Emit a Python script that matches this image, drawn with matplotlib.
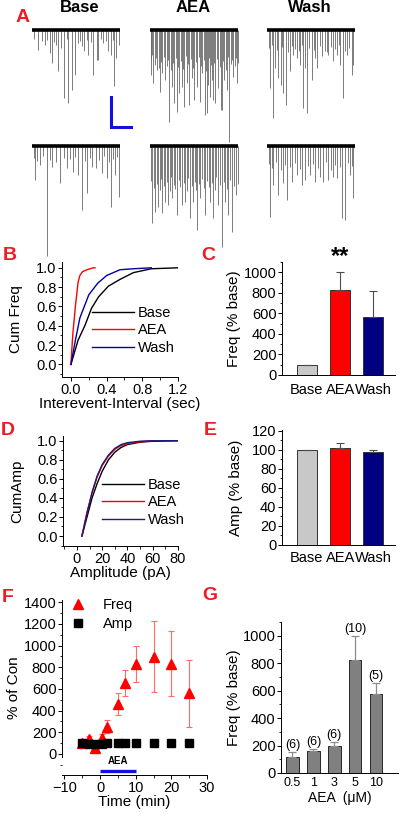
import matplotlib.pyplot as plt
import numpy as np
from matplotlib.ticker import MultipleLocator
from matplotlib.lines import Line2D

plt.rcParams['font.family'] = ['Liberation Sans', 'DejaVu Sans']
plt.rcParams['axes.linewidth'] = 0.7

W, H = 400, 818
fig = plt.figure(figsize=(W / 100, H / 100), dpi=100)
RED = '#ee1c24'

# ---------------- data ----------------
# Panel A: sample traces, events as (time ms, amplitude pA)
base1_t = [57, 97, 130, 180, 197, 237, 263, 290, 323, 363, 397, 430, 463, 497, 523, 563, 613, 647,
           663, 713, 763, 790, 823, 840, 870, 20, 150, 215, 345, 480, 545, 590, 690, 740, 810]
base1_a = [20, 11, 15, 23, 33, 15, 41, 18, 68, 73, 60, 45, 13, 16, 21, 25, 45, 30,
           30, 13, 21, 25, 56, 28, 15, 9, 10, 12, 9, 11, 10, 12, 9, 11, 10]
aea1_t = [10, 30, 70, 100, 120, 150, 190, 220, 240, 270, 290, 320, 340, 370, 390, 420, 440, 470,
          500, 520, 550, 570, 580, 600, 620, 630, 650, 680, 710, 720, 740, 770, 790, 830, 870,
          5, 20, 45, 60, 85, 110, 135, 165, 175, 205, 230, 255, 280, 305, 330, 355, 380, 405,
          430, 455, 485, 510, 535, 560, 590, 610, 640, 665, 695, 730, 755, 780, 805, 815, 845,
          860, 878]
aea1_a = [45, 53, 40, 62, 43, 50, 92, 57, 73, 82, 63, 57, 77, 53, 75, 48, 70, 57,
          72, 43, 85, 83, 55, 67, 50, 70, 73, 58, 80, 80, 50, 60, 112, 47, 53,
          30, 25, 35, 28, 38, 32, 27, 36, 30, 40, 33, 28, 37, 31, 39, 26, 34, 29,
          38, 32, 27, 36, 30, 41, 28, 35, 33, 29, 37, 31, 40, 27, 34, 30, 36,
          28, 33]
wash1_t = [30, 57, 80, 113, 137, 163, 190, 230, 263, 297, 330, 357, 380, 403, 447, 480, 503, 547,
           580, 613, 657, 697, 730, 757, 797, 847, 863,
           15, 45, 100, 150, 210, 245, 280, 315, 345, 420, 465, 525, 600, 640, 680, 715, 780, 820]
wash1_a = [58, 88, 38, 48, 55, 63, 75, 41, 25, 28, 35, 78, 38, 83, 50, 28, 38, 26,
           21, 25, 31, 25, 35, 68, 25, 45, 35,
           18, 15, 20, 17, 22, 16, 19, 21, 15, 18, 20, 16, 22, 17, 19, 15, 21, 18]
base2_t = [30, 80, 150, 200, 280, 350, 410, 460, 500, 550, 600, 640, 700, 750, 790, 830, 875,
           15, 50, 110, 180, 240, 320, 380, 430, 530, 580, 670, 720, 770, 810, 855]
base2_a = [34, 19, 110, 21, 37, 22, 26, 29, 64, 47, 21, 22, 27, 32, 61, 29, 51,
           12, 15, 10, 14, 16, 12, 13, 11, 15, 12, 14, 10, 16, 13, 11]
aea2_t = [20, 50, 80, 120, 150, 180, 220, 270, 320, 350, 400, 430, 470, 500, 550, 600, 630, 680,
          720, 750, 780, 820, 860,
          5, 35, 65, 95, 105, 135, 165, 195, 205, 235, 250, 285, 300, 335, 365, 380, 415, 445,
          455, 485, 520, 535, 565, 585, 615, 645, 660, 700, 735, 765, 800, 840, 875]
aea2_a = [77, 66, 61, 67, 56, 59, 52, 69, 59, 56, 72, 56, 84, 52, 69, 56, 72, 59,
          101, 56, 69, 86, 49,
          35, 42, 38, 44, 33, 40, 36, 45, 31, 39, 43, 34, 41, 37, 45, 32, 40, 36,
          44, 38, 33, 42, 35, 41, 37, 44, 31, 39, 36, 43, 34, 40, 38]
wash2_t = [30, 60, 110, 160, 200, 250, 300, 350, 380, 430, 480, 530, 560, 610, 660, 700, 750, 780,
           830, 860,
           15, 45, 85, 135, 180, 225, 275, 325, 405, 455, 505, 585, 635, 680, 725, 805, 845]
wash2_a = [71, 39, 49, 37, 54, 36, 29, 39, 34, 29, 36, 31, 36, 34, 31, 32, 72, 74,
           29, 52,
           18, 22, 16, 24, 19, 21, 17, 23, 20, 18, 22, 16, 24, 19, 21, 17, 20]
trace_len = 880          # ms
scale_ms, scale_pa = 200, 30

# Panel B: cumulative inter-event interval
b_base_x = [0, 0.08, 0.16, 0.23, 0.31, 0.42, 0.55, 0.7, 0.9, 1.2]
b_base_y = [0, 0.25, 0.41, 0.58, 0.70, 0.81, 0.88, 0.95, 0.99, 1.0]
b_aea_x = [0, 0.02, 0.05, 0.08, 0.1, 0.13, 0.18, 0.25, 0.27]
b_aea_y = [0, 0.3, 0.6, 0.85, 0.92, 0.96, 0.98, 1.0, 1.0]
b_wash_x = [0, 0.05, 0.1, 0.2, 0.3, 0.4, 0.55, 0.7, 0.9]
b_wash_y = [0, 0.25, 0.48, 0.72, 0.84, 0.92, 0.98, 0.99, 1.0]

# Panel C / E: bars
conds = ['Base', 'AEA', 'Wash']
cond_colors = ['#c8c8c8', '#ff0000', '#000080']
c_freq = [100, 830, 566]
c_err = [0, 170, 252]
e_amp = [100, 102, 98]
e_err = [0, 5, 1.5]

# Panel D: cumulative amplitude
d_base_x = [4, 8, 12, 16, 20, 25, 30, 35, 40, 50, 60, 80]
d_base_y = [0, 0.2, 0.4, 0.55, 0.68, 0.80, 0.88, 0.93, 0.96, 0.985, 0.995, 1.0]
d_aea_x = [4, 8, 12, 16, 20, 25, 30, 35, 40, 50, 60]
d_aea_y = [0, 0.25, 0.45, 0.62, 0.74, 0.84, 0.91, 0.95, 0.97, 0.99, 1.0]
d_wash_x = [4, 8, 12, 16, 20, 25, 30, 35, 40, 50, 60, 80]
d_wash_y = [0, 0.24, 0.46, 0.63, 0.75, 0.85, 0.92, 0.96, 0.98, 0.995, 1.0, 1.0]

# Panel F: time course
f_time = [-5, -3, -1.5, 0.5, 2, 5, 7, 10, 15, 20, 25]
f_freq = [100, 135, 52, 145, 252, 458, 652, 830, 898, 830, 560]
f_freq_err = [25, 30, 30, 40, 60, 100, 120, 170, 325, 300, 310]
f_amp = [100, 95, 95, 95, 98, 100, 105, 105, 97, 103, 98]
aea_period = [0, 10]

# Panel G: dose response
g_doses = ['0.5', '1', '3', '5', '10']
g_freq = [120, 160, 200, 825, 578]
g_err = [35, 12, 25, 175, 75]
g_n = [6, 6, 6, 10, 5]


def add_box(x0, y0, x1, y1):
    return fig.add_axes([x0 / W, 1 - y1 / H, (x1 - x0) / W, (y1 - y0) / H])


def style(ax):
    for s in ['top', 'right']:
        ax.spines[s].set_visible(False)
    ax.tick_params(direction='out', length=3, width=0.7, labelsize=10.5, pad=1)
    ax.tick_params(which='minor', direction='out', length=1.8, width=0.6)


def letter(x, y, s):
    fig.text(x / W, 1 - y / H, s, color=RED, fontsize=14, fontweight='bold',
             ha='center', va='center')


# ---------------- A: traces ----------------
trace_sets = [
    (32, 20, base1_t, base1_a), (150, 20, aea1_t, aea1_a), (267, 20, wash1_t, wash1_a),
    (32, 136, base2_t, base2_a), (150, 136, aea2_t, aea2_a), (267, 136, wash2_t, wash2_a),
]
trace_axes = []
for x0, y0, tt, aa in trace_sets:
    ax = add_box(x0, y0, x0 + 88, y0 + 130)
    ax.set_xlim(0, trace_len)
    ax.set_ylim(-120, 10)
    ax.axis('off')
    ax.patch.set_alpha(0)
    ax.vlines(tt, -np.array(aa), 0, color='0.4', lw=0.6, clip_on=False)
    ax.plot([0, trace_len], [0, 0], color='black', lw=2.6, solid_capstyle='butt')
    trace_axes.append(ax)

# scale bar next to Base (row 1)
sb = trace_axes[0]
sb.plot([790, 790, 790 + scale_ms], [-97 + scale_pa, -97, -97], color='#1010e0', lw=2.2,
        clip_on=False, solid_joinstyle='miter')

for x, s in [(80, 'Base'), (193, 'AEA'), (310, 'Wash')]:
    fig.text(x / W, 1 - 8 / H, s, fontsize=12, fontweight='bold', ha='center', va='center')

# ---------------- B ----------------
ax = add_box(62, 262, 178, 377)
style(ax)
ax.plot(b_base_x, b_base_y, color='black', lw=1, label='Base')
ax.plot(b_aea_x, b_aea_y, color='red', lw=1, label='AEA')
ax.plot(b_wash_x, b_wash_y, color='#0000a0', lw=1, label='Wash')
ax.set_xlim(-0.1, 1.2)
ax.set_ylim(-0.13, 1.06)
ax.xaxis.set_major_locator(MultipleLocator(0.4))
ax.xaxis.set_minor_locator(MultipleLocator(0.2))
ax.yaxis.set_major_locator(MultipleLocator(0.2))
ax.yaxis.set_minor_locator(MultipleLocator(0.1))
ax.yaxis.set_major_formatter(plt.FormatStrFormatter('%.1f'))
ax.xaxis.set_major_formatter(plt.FormatStrFormatter('%.1f'))
ax.set_xlabel('Interevent-Interval (sec)', fontsize=11, labelpad=0)
ax.set_ylabel('Cum Freq', fontsize=11, labelpad=9)
ax.legend(loc='upper left', bbox_to_anchor=(0.26, 0.62), frameon=False, fontsize=10.5,
          handlelength=2.9, handletextpad=0.25, labelspacing=0.25, borderpad=0, borderaxespad=0)

# ---------------- C ----------------
ax = add_box(282, 262, 395, 375)
style(ax)
x3 = np.arange(len(conds))
ax.bar(x3, c_freq, width=0.6, color=cond_colors, edgecolor='0.2', lw=0.7,
       yerr=[np.zeros(3), c_err], error_kw=dict(ecolor='0.3', capsize=3, elinewidth=0.8, capthick=0.8))
ax.text(1, max(np.add(c_freq, c_err)) + 40, '**', ha='center', va='bottom', fontsize=17,
        fontweight='bold')
ax.set_xlim(-0.75, 2.65)
ax.set_ylim(0, 1100)
ax.set_xticks(x3)
ax.set_xticklabels(conds)
ax.tick_params(axis='x', length=0, pad=6)
ax.yaxis.set_major_locator(MultipleLocator(200))
ax.yaxis.set_minor_locator(MultipleLocator(100))
ax.set_ylabel('Freq (% base)', fontsize=11, labelpad=2)

# ---------------- D ----------------
ax = add_box(63, 436, 178, 546)
style(ax)
ax.plot(d_base_x, d_base_y, color='black', lw=1, label='Base')
ax.plot(d_aea_x, d_aea_y, color='red', lw=1, label='AEA')
ax.plot(d_wash_x, d_wash_y, color='#1a1a80', lw=1, label='Wash')
ax.set_xlim(-11, 80)
ax.set_ylim(-0.105, 1.05)
ax.xaxis.set_major_locator(MultipleLocator(20))
ax.xaxis.set_minor_locator(MultipleLocator(10))
ax.yaxis.set_major_locator(MultipleLocator(0.2))
ax.yaxis.set_minor_locator(MultipleLocator(0.1))
ax.yaxis.set_major_formatter(plt.FormatStrFormatter('%.1f'))
ax.set_xlabel('Amplitude (pA)', fontsize=11, labelpad=0)
ax.set_ylabel('CumAmp', fontsize=11, labelpad=9)
ax.legend(loc='upper left', bbox_to_anchor=(0.34, 0.62), frameon=False, fontsize=10.5,
          handlelength=2.9, handletextpad=0.25, labelspacing=0.25, borderpad=0, borderaxespad=0)

# ---------------- E ----------------
ax = add_box(282, 430, 395, 545)
style(ax)
ax.bar(x3, e_amp, width=0.6, color=cond_colors, edgecolor='0.2', lw=0.7,
       yerr=[np.zeros(3), e_err], error_kw=dict(ecolor='0.3', capsize=3, elinewidth=0.8, capthick=0.8))
ax.set_xlim(-0.75, 2.65)
ax.set_ylim(0, 121)
ax.set_xticks(x3)
ax.set_xticklabels(conds)
ax.tick_params(axis='x', length=0, pad=4)
ax.yaxis.set_major_locator(MultipleLocator(20))
ax.yaxis.set_minor_locator(MultipleLocator(10))
ax.set_ylabel('Amp (% base)', fontsize=11, labelpad=6)

# ---------------- F ----------------
ax = add_box(62, 600, 207, 775)
style(ax)
ax.errorbar(f_time, f_freq, yerr=f_freq_err, fmt='^', color='red', ms=6.5, ecolor='#ff6a6a',
            elinewidth=0.8, capsize=2.5, capthick=0.8, zorder=2)
ax.plot(f_time, f_amp, 's', color='black', ms=5.5, zorder=3)
ax.plot(aea_period, [-157, -157], color='#1010e0', lw=2.4, solid_capstyle='butt')
ax.text(np.mean(aea_period), -115, 'AEA', ha='center', va='bottom', fontsize=7,
        fontweight='bold')
ax.set_xlim(-10.7, 30)
ax.set_ylim(-194, 1420)
ax.spines['left'].set_bounds(-25, 1420)
ax.xaxis.set_major_locator(MultipleLocator(10))
ax.xaxis.set_minor_locator(MultipleLocator(5))
ax.yaxis.set_minor_locator(MultipleLocator(100))
ax.set_yticks(np.arange(0, 1401, 200))
ax.set_xlabel('Time (min)', fontsize=11, labelpad=0)
ax.set_ylabel('% of Con', fontsize=11, labelpad=2)
handles = [Line2D([], [], ls='none', marker='^', color='red', ms=6.5),
           Line2D([], [], ls='none', marker='s', color='black', ms=5.5)]
ax.legend(handles, ['Freq', 'Amp'], loc='upper left', bbox_to_anchor=(0.06, 1.01),
          frameon=False, fontsize=10.5, handlelength=1, handletextpad=1.2, labelspacing=0.3,
          borderpad=0, borderaxespad=0)

# ---------------- G ----------------
ax = add_box(281, 622, 398, 773)
style(ax)
x5 = np.arange(len(g_doses))
ax.bar(x5, g_freq, width=0.6, color='#808080', edgecolor='0.15', lw=0.7,
       yerr=[np.zeros(5), g_err], error_kw=dict(ecolor='0.55', capsize=3, elinewidth=0.9, capthick=0.9))
for xi, v, e, n in zip(x5, g_freq, g_err, g_n):
    ax.text(xi, v + e + 8, f'({n})', ha='center', va='bottom', fontsize=9)
ax.set_xlim(-0.55, 5.05)
ax.set_ylim(0, 1100)
ax.set_xticks(x5)
ax.set_xticklabels(g_doses, fontsize=9)
ax.tick_params(axis='x', length=0, pad=3)
ax.yaxis.set_major_locator(MultipleLocator(200))
ax.yaxis.set_minor_locator(MultipleLocator(100))
ax.set_xlabel('AEA  (\u03bcM)', fontsize=10, labelpad=1)
ax.set_ylabel('Freq (% base)', fontsize=11, labelpad=1)

# ---------------- panel letters ----------------
letter(23, 18, 'A')
letter(10, 255, 'B')
letter(208, 255, 'C')
letter(8, 430, 'D')
letter(210, 430, 'E')
letter(8, 597, 'F')
letter(210, 595, 'G')

fig.savefig('out.png', dpi=100)
